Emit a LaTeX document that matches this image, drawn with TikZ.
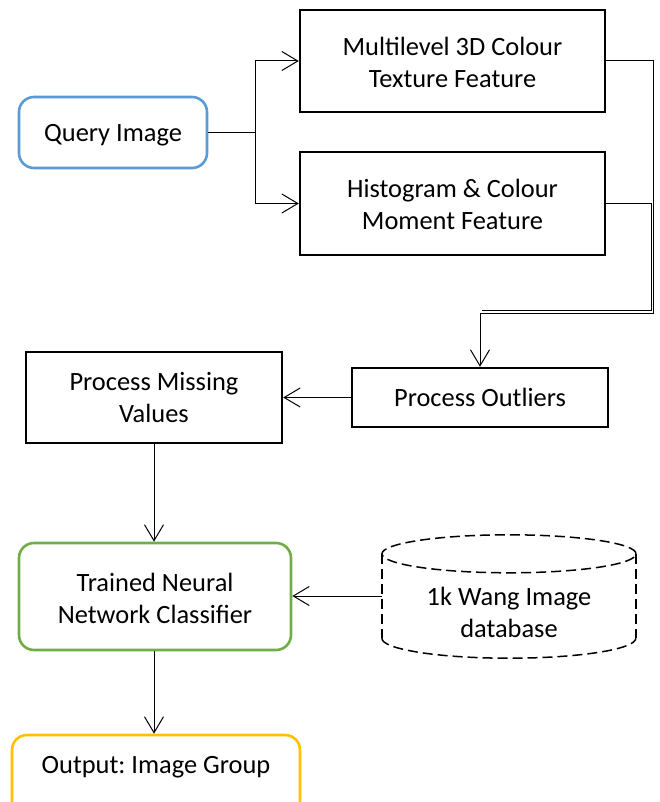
\documentclass[tikz,border=0pt]{standalone}
\usepackage{fontspec}
\setmainfont{Carlito}
\frenchspacing
\usetikzlibrary{arrows.meta}
\definecolor{qblue}{HTML}{5B9BD5}
\definecolor{qgreen}{HTML}{70AD47}
\definecolor{qyellow}{HTML}{FFC000}
\begin{document}
\begin{tikzpicture}[x=1pt,y=-1pt,
  txt/.style={align=center,font=\fontsize{26.4}{32}\selectfont,inner sep=0pt},
  blackbox/.style={txt,draw,line width=2.4pt,rectangle},
  roundbox/.style={txt,draw,line width=2.6pt,rounded corners=15pt,rectangle},
  conn/.style={line width=1pt},
  arr/.style={conn,-{Straight Barb[length=16pt,width=19pt]}},
  dbline/.style={line width=1.5pt,dash pattern=on 10pt off 5pt}]
\useasboundingbox (0,0) rectangle (660,802);
\node[roundbox,draw=qblue,minimum width=188pt,minimum height=71pt] (q) at (113,132.5) {\raisebox{-3pt}[\height][\depth]{Query Image}};
\node[blackbox,minimum width=305pt,minimum height=102pt] (b1) at (452.5,61) {\raisebox{-4pt}[\height][\depth]{\begin{tabular}{@{}c@{}}Multilevel 3D Colour\\Texture Feature\end{tabular}}};
\node[blackbox,minimum width=305pt,minimum height=103pt] (b2) at (452.5,203.5) {\raisebox{-4pt}[\height][\depth]{\begin{tabular}{@{}c@{}}Histogram \& Colour\\Moment Feature\end{tabular}}};
\node[blackbox,minimum width=256pt,minimum height=59pt] (po) at (480,397.5) {Process Outliers};
\node[blackbox,minimum width=256pt,minimum height=91pt] (pmv) at (154,397.5) {Process Missing\\Values};
\node[roundbox,draw=qgreen,minimum width=272pt,minimum height=107pt] (nn) at (155,596.5) {\raisebox{-5pt}[\height][\depth]{\begin{tabular}{@{}c@{}}Trained Neural\\Network Classifier\end{tabular}}};
\node[inner sep=0pt,minimum width=254pt,minimum height=84pt] (db) at (509,596) {};
\node[txt] (dbtext) at (509,612) {1k Wang Image\\database};
\node[roundbox,draw=qyellow,minimum width=288pt,minimum height=94pt] (out) at (156,782) {};
\node[txt] (outtext) at (156,767) {Output: Image Group};
% cylinder
\draw[dbline] (db.north) ellipse [x radius=127pt, y radius=19pt];
\draw[dbline] (db.north west) -- (db.south west);
\draw[dbline] (db.north east) -- (db.south east);
\draw[dbline] (db.south west) arc[start angle=180,end angle=360,x radius=127pt,y radius=20pt];
% connectors
\draw[conn] (q.east) -- ++(47,0) coordinate (split);
\draw[arr] (split) |- (b1.west);
\draw[arr] (split) |- (b2.west);
\coordinate (rt) at (653,313);
\draw[arr] (b1.east) -| (rt) -| (po.north);
\draw[conn] (b2.east) -| ([shift={(-2,-2.5)}]rt) -- ([shift={(2,-2.5)}]rt -| po.north);
\draw[arr] (po.west) -- (pmv.east |- po.west);
\draw[arr] (pmv.south) -- (pmv.south |- nn.north);
\draw[arr] (db.west) -- (nn.east |- db.west);
\draw[arr] (nn.south -| pmv.south) -- (pmv.south |- out.north);
\end{tikzpicture}
\end{document}
